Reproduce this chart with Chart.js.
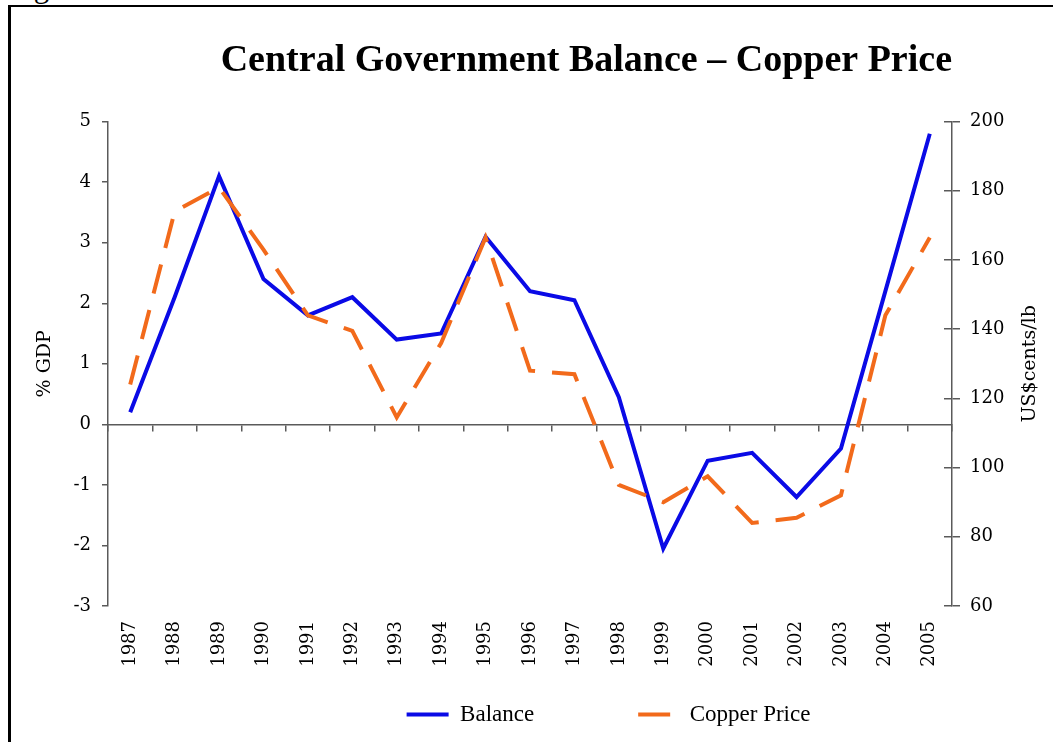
<!DOCTYPE html>
<html>
<head>
<meta charset="utf-8">
<title>Central Government Balance – Copper Price</title>
<script src="https://cdn.jsdelivr.net/npm/chart.js@4/dist/chart.umd.min.js"></script>
<style>
  html, body { margin: 0; padding: 0; background: #fff; overflow: hidden; }
  body { width: 1053px; height: 742px; position: relative; }
  #caption { position: absolute; left: 8px; top: -29px; font: 31px/1 "Liberation Serif", serif; color: #000; }
  #frame { position: absolute; left: 8px; top: 5px; width: 2000px; height: 2000px;
           border-left: 3px solid #000; border-top: 2px solid #000; }
  #chart { position: absolute; left: 11px; top: 7px; }
</style>
</head>
<body>
<div id="caption">Figure</div>
<div id="frame"></div>
<canvas id="chart" width="1195" height="735"></canvas>
<script>
// values
var years = ['1987', '1988', '1989', '1990', '1991', '1992', '1993', '1994', '1995', '1996',
             '1997', '1998', '1999', '2000', '2001', '2002', '2003', '2004', '2005'];
var balance = [0.2, 2.1, 4.1, 2.4, 1.8, 2.1, 1.4, 1.5, 3.1, 2.2,
               2.05, 0.45, -2.05, -0.6, -0.47, -1.2, -0.4, 2.2, 4.8];
var copper = [124, 174, 181, 163, 144, 139.5, 114.5, 136, 166.5, 128,
              127, 95, 90, 97.5, 84, 85.5, 92, 144, 166.5];

var blue = '#0a0ae6';
var orange = '#f26a1b';
var axisColor = '#5a5a5a';
var tickFont = { family: 'DejaVu Serif', size: 18 };

// right axis title reads bottom-to-top like the left one
var rightTitle = {
  id: 'rightTitle',
  afterDraw: function(chart) {
    var s = chart.scales.y2;
    var ctx = chart.ctx;
    ctx.save();
    ctx.font = '19px "DejaVu Serif"';
    ctx.fillStyle = '#000';
    ctx.textAlign = 'center';
    ctx.textBaseline = 'middle';
    ctx.translate(s.left + 78, (s.top + s.bottom) / 2);
    ctx.rotate(-Math.PI / 2);
    ctx.fillText('US$cents/lb', 0, 0);
    ctx.restore();
  }
};

function legendItems() {
  return [
    { text: 'Balance\u2003\u2003\u2003\u2003', fillStyle: blue, strokeStyle: blue, lineWidth: 4,
      lineDash: [], pointStyle: 'line', datasetIndex: 0, hidden: false, fontColor: '#000' },
    { text: 'Copper Price', fillStyle: orange, strokeStyle: orange, lineWidth: 4,
      lineDash: [32, 20], lineDashOffset: 50, pointStyle: 'line', datasetIndex: 1, hidden: false, fontColor: '#000' }
  ];
}

new Chart(document.getElementById('chart'), {
  type: 'line',
  data: {
    labels: years,
    datasets: [{
      label: 'Balance',
      data: balance,
      xAxisID: 'x',
      yAxisID: 'y',
      borderColor: blue,
      backgroundColor: blue,
      borderWidth: 4,
      pointRadius: 0,
      tension: 0,
      order: 2
    }, {
      label: 'Copper Price',
      data: copper,
      xAxisID: 'x',
      yAxisID: 'y2',
      borderColor: orange,
      backgroundColor: orange,
      borderWidth: 4,
      borderDash: [30, 17],
      pointRadius: 0,
      tension: 0,
      order: 1
    }]
  },
  options: {
    responsive: false,
    animation: false,
    layout: { padding: { bottom: 6 } },
    scales: {
      x: {
        type: 'category',
        position: 'bottom',
        offset: true,
        grid: { display: false, drawTicks: false },
        border: { display: false },
        ticks: { autoSkip: false, minRotation: 90, maxRotation: 90, padding: 15, color: '#000', font: tickFont },
        afterFit: function(s) { s.height = 87; }
      },
      // zero line with its small tick marks
      x2: {
        type: 'category',
        axis: 'x',
        position: { y: 0 },
        offset: true,
        grid: { offset: true, drawOnChartArea: false, tickLength: 6, color: axisColor, lineWidth: 1.5 },
        border: { display: true, color: axisColor, width: 1.5 },
        ticks: { display: false }
      },
      y: {
        position: 'left',
        min: -3,
        max: 5,
        ticks: { stepSize: 1, padding: 11, color: '#000', font: tickFont },
        grid: { drawOnChartArea: false, tickLength: 6, color: axisColor, lineWidth: 1.5 },
        border: { color: axisColor, width: 1.5 },
        title: { display: true, text: '% GDP', color: '#000',
                 font: { family: 'DejaVu Serif', size: 19 }, padding: { top: 23 } },
        afterFit: function(s) { s.width = 97; }
      },
      y2: {
        position: 'right',
        min: 60,
        max: 200,
        ticks: { stepSize: 20, padding: 10, color: '#000', font: tickFont },
        grid: { drawOnChartArea: false, tickLength: 8, color: axisColor, lineWidth: 1.5 },
        border: { color: axisColor, width: 1.5 },
        afterFit: function(s) { s.width = 254; }
      },
      // inner half of the right axis cross ticks
      y3: {
        type: 'linear',
        axis: 'y',
        position: { x: 18.5 },
        min: 60,
        max: 200,
        ticks: { display: false, stepSize: 20 },
        grid: { drawOnChartArea: false, tickLength: 8, color: axisColor, lineWidth: 1.5 },
        border: { display: false }
      }
    },
    plugins: {
      title: {
        display: true,
        text: 'Central Government Balance – Copper Price',
        align: 'end',
        fullSize: false,
        color: '#000',
        font: { family: 'Liberation Serif', size: 38, weight: 'bold' },
        padding: { top: 31, bottom: 38 }
      },
      legend: {
        position: 'bottom',
        labels: {
          usePointStyle: true,
          pointStyleWidth: 42,
          padding: 10,
          color: '#000',
          font: { family: 'Liberation Serif', size: 23 },
          generateLabels: legendItems
        }
      },
      tooltip: { enabled: false }
    }
  },
  plugins: [rightTitle]
});
</script>
</body>
</html>
